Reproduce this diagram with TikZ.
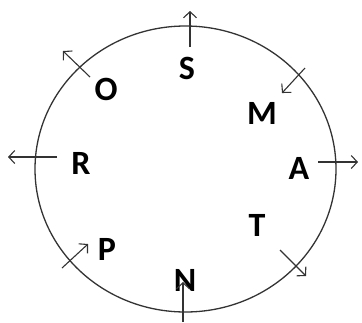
\documentclass[tikz,border=0pt]{standalone}
\usepackage{fontspec}
\setmainfont{Carlito}
\usepackage{tikz}
\usetikzlibrary{arrows.meta}

\begin{document}
\begin{tikzpicture}[
  x=1pt, y=-1pt,
  letter/.style={inner sep=0pt, font=\fontsize{34}{34}\selectfont\bfseries},
  ring/.style={draw=black!80, line width=1.3pt},
  every edge/.style={draw=black!80, line width=1.1pt,
                     -{Straight Barb[length=6pt,width=13pt]}}
]
\useasboundingbox (0,0) rectangle (362,322);
\draw[ring] (185.5,169) ellipse [x radius=150.5, y radius=143];

% letters round the ring
\node[letter] (S) at (187,68)  {S};
\node[letter] (O) at (106,89)  {O};
\node[letter] (M) at (262,113) {M};
\node[letter] (R) at (81,163)  {R};
\node[letter] (A) at (299,168) {A};
\node[letter] (T) at (257,225) {T};
\node[letter] (P) at (107,249) {P};
\node[letter] (N) at (185,280) {N};

% arrow ends
\coordinate (s0) at (190,47);  \coordinate (s1) at (190,11);
\coordinate (o0) at (90,77);   \coordinate (o1) at (63,51);
\coordinate (m0) at (305,68);  \coordinate (m1) at (282,93);
\coordinate (r0) at (57,157);  \coordinate (r1) at (8,157);
\coordinate (a0) at (318,162); \coordinate (a1) at (358,162);
\coordinate (t0) at (280,250); \coordinate (t1) at (306,276);
\coordinate (p0) at (62,268);  \coordinate (p1) at (88,244);
\coordinate (n0) at (183,322); \coordinate (n1) at (183,282);

\draw (s0) edge (s1) (o0) edge (o1) (m0) edge (m1) (r0) edge (r1)
      (a0) edge (a1) (t0) edge (t1) (p0) edge (p1) (n0) edge (n1);
\end{tikzpicture}
\end{document}
